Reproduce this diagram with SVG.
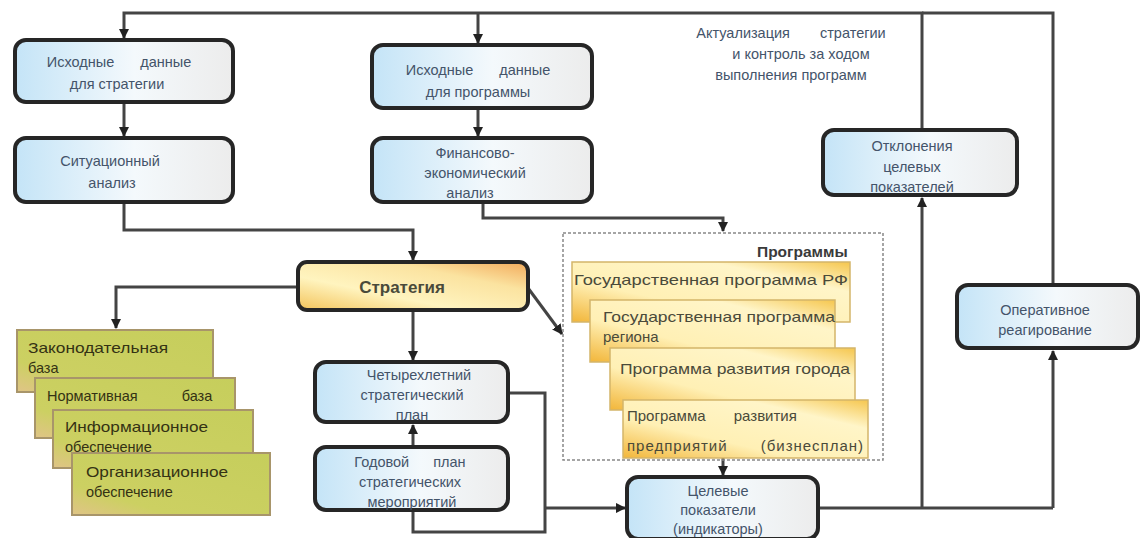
<svg xmlns="http://www.w3.org/2000/svg" width="1140" height="538" viewBox="0 0 1140 538">
<style>
.box{stroke:#262626;stroke-width:4;fill:url(#gBlue)}
.t{font-family:"Liberation Sans",Arial,sans-serif;font-size:14.5px;fill:#44546a;text-anchor:middle}
.tl{font-family:"Liberation Sans",Arial,sans-serif;font-size:14.5px;fill:#343214;text-anchor:start}
.tp{font-family:"Liberation Sans",Arial,sans-serif;font-size:15px;fill:#4a4a3a;text-anchor:start}
.green{fill:url(#gGreen);stroke:#a8956a;stroke-width:2}
.prog{fill:url(#gProg);stroke:#d4b56a;stroke-width:1.5}
.c{fill:none;stroke:#444;stroke-width:3}
</style>
<defs>
<linearGradient id="gBlue" x1="0" y1="0" x2="1" y2="0">
<stop offset="0" stop-color="#c4e4f7"/><stop offset="0.55" stop-color="#f4f9fc"/><stop offset="1" stop-color="#ececec"/>
</linearGradient>
<linearGradient id="gStrat" x1="0" y1="1" x2="1" y2="0">
<stop offset="0" stop-color="#f3c35a"/><stop offset="0.35" stop-color="#fff4bf"/><stop offset="0.7" stop-color="#fbe3a0"/><stop offset="1" stop-color="#f2a95a"/>
</linearGradient>
<linearGradient id="gGreen" x1="0" y1="1" x2="1" y2="0">
<stop offset="0" stop-color="#e0c487"/><stop offset="0.25" stop-color="#ccd062"/><stop offset="1" stop-color="#c6ce5c"/>
</linearGradient>
<linearGradient id="gProg" x1="0" y1="1" x2="1" y2="0">
<stop offset="0" stop-color="#f2b63a"/><stop offset="0.35" stop-color="#fff0b5"/><stop offset="0.75" stop-color="#fff5c8"/><stop offset="1" stop-color="#f5c64e"/>
</linearGradient>
<marker id="arr" viewBox="0 0 10 10" refX="9" refY="5" markerWidth="3.5" markerHeight="3.5" orient="auto">
<path d="M0,0 L10,5 L0,10 z" fill="#222"/>
</marker>
</defs>

<g id="connectors">
<path class="c" d="M922,130 V13 H124 V38" marker-end="url(#arr)"/>
<path class="c" d="M1053,285 V13 H922"/>
<path class="c" d="M478,13 V43" marker-end="url(#arr)"/>
<path class="c" d="M124,102 V136" marker-end="url(#arr)"/>
<path class="c" d="M478,108 V136" marker-end="url(#arr)"/>
<path class="c" d="M124,202 V230 H413 V260" marker-end="url(#arr)"/>
<path class="c" d="M483,202 V218 H723 V231" marker-end="url(#arr)"/>
<path class="c" d="M298,287 H116 V328" marker-end="url(#arr)"/>
<path class="c" d="M413,310 V360" marker-end="url(#arr)"/>
<path class="c" d="M528,288 L562,334" marker-end="url(#arr)"/>
<path class="c" d="M413,447 V425" marker-end="url(#arr)"/>
<path class="c" d="M508,393 H545 V532 H413 V510"/>
<path class="c" d="M545,508 H625" marker-end="url(#arr)"/>
<path class="c" d="M723,458 V475" marker-end="url(#arr)"/>
<path class="c" d="M818,508 H1053"/>
<path class="c" d="M922,508 V198" marker-end="url(#arr)"/>
<path class="c" d="M1053,508 V351" marker-end="url(#arr)"/>
</g>

<g id="n-ishod-strat">
<rect class="box" x="15" y="40" width="218" height="62" rx="11"/>
<text class="t" x="119" y="67" word-spacing="22">Исходные данные</text>
<text class="t" x="117" y="89">для стратегии</text>
</g>
<g id="n-situac">
<rect class="box" x="15" y="138" width="218" height="64" rx="11"/>
<text class="t" x="110" y="166">Ситуационный</text>
<text class="t" x="112" y="188">анализ</text>
</g>
<g id="n-ishod-prog">
<rect class="box" x="372" y="45" width="220" height="63" rx="11"/>
<text class="t" x="478" y="75" word-spacing="22">Исходные данные</text>
<text class="t" x="478" y="97">для программы</text>
</g>
<g id="n-fin">
<rect class="box" x="372" y="138" width="220" height="64" rx="11"/>
<text class="t" x="475" y="158">Финансово-</text>
<text class="t" x="475" y="178">экономический</text>
<text class="t" x="470" y="198">анализ</text>
</g>
<g id="n-aktual">
<text class="t" x="791" y="38" word-spacing="26">Актуализация стратегии</text>
<text class="t" x="801" y="59">и контроль за ходом</text>
<text class="t" x="791" y="80">выполнения программ</text>
</g>
<g id="n-otklon">
<rect class="box" x="823" y="130" width="194" height="65" rx="11"/>
<text class="t" x="912" y="151">Отклонения</text>
<text class="t" x="912" y="172">целевых</text>
<text class="t" x="912" y="192">показателей</text>
</g>
<g id="n-strat">
<rect x="298" y="262" width="230" height="48" rx="9" fill="url(#gStrat)" stroke="#262626" stroke-width="4"/>
<text class="t" x="402" y="293" style="font-weight:bold;fill:#4a4a3a;font-size:17px">Стратегия</text>
</g>
<g id="n-oper">
<rect class="box" x="957" y="285" width="181" height="63" rx="11"/>
<text class="t" x="1045" y="315">Оперативное</text>
<text class="t" x="1045" y="335">реагирование</text>
</g>
<g id="n-chet">
<rect class="box" x="315" y="362" width="193" height="60" rx="11"/>
<text class="t" x="419" y="380">Четырехлетний</text>
<text class="t" x="412" y="400">стратегический</text>
<text class="t" x="412" y="420">план</text>
</g>
<g id="n-god">
<rect class="box" x="315" y="447" width="193" height="63" rx="11"/>
<text class="t" x="410" y="467" word-spacing="20">Годовой план</text>
<text class="t" x="410" y="487">стратегических</text>
<text class="t" x="412" y="507">мероприятий</text>
</g>
<g id="n-celev">
<rect class="box" x="627" y="477" width="191" height="62" rx="11"/>
<text class="t" x="718" y="496">Целевые</text>
<text class="t" x="718" y="515">показатели</text>
<text class="t" x="718" y="534">(индикаторы)</text>
</g>

<g id="n-programs">
<rect x="563" y="233" width="320" height="227" fill="none" stroke="#888" stroke-width="1.5" stroke-dasharray="3,2"/>
<text class="tp" x="757" y="257" style="font-weight:bold;fill:#3a3a3a;font-size:15.5px">Программы</text>
<rect class="prog" x="572" y="262" width="278" height="60"/>
<text class="tp" x="574" y="285" textLength="274" lengthAdjust="spacingAndGlyphs">Государственная программа РФ</text>
<rect class="prog" x="590" y="300" width="245" height="62"/>
<text class="tp" x="603" y="322" textLength="232" lengthAdjust="spacingAndGlyphs">Государственная программа</text>
<text class="tp" x="603" y="342">региона</text>
<rect class="prog" x="610" y="348" width="245" height="62"/>
<text class="tp" x="620" y="374" textLength="230" lengthAdjust="spacingAndGlyphs">Программа развития города</text>
<rect class="prog" x="623" y="400" width="245" height="58"/>
<text class="tp" x="627" y="421" word-spacing="24">Программа развития</text>
<text class="tp" x="627" y="451" textLength="236" word-spacing="28">предприятий (бизнесплан)</text>
</g>

<g id="n-base">
<rect class="green" x="17" y="330" width="196" height="62"/>
<text class="tl" x="28" y="353" textLength="140" lengthAdjust="spacingAndGlyphs">Законодательная</text>
<text class="tl" x="28" y="373">база</text>
<rect class="green" x="35" y="378" width="200" height="60"/>
<text class="tl" x="47" y="401" word-spacing="40">Нормативная база</text>
<rect class="green" x="53" y="410" width="200" height="58"/>
<text class="tl" x="65" y="432" textLength="143" lengthAdjust="spacingAndGlyphs">Информационное</text>
<text class="tl" x="65" y="452">обеспечение</text>
<rect class="green" x="72" y="453" width="198" height="62"/>
<text class="tl" x="86" y="477" textLength="142" lengthAdjust="spacingAndGlyphs">Организационное</text>
<text class="tl" x="86" y="497">обеспечение</text>
</g>
</svg>
